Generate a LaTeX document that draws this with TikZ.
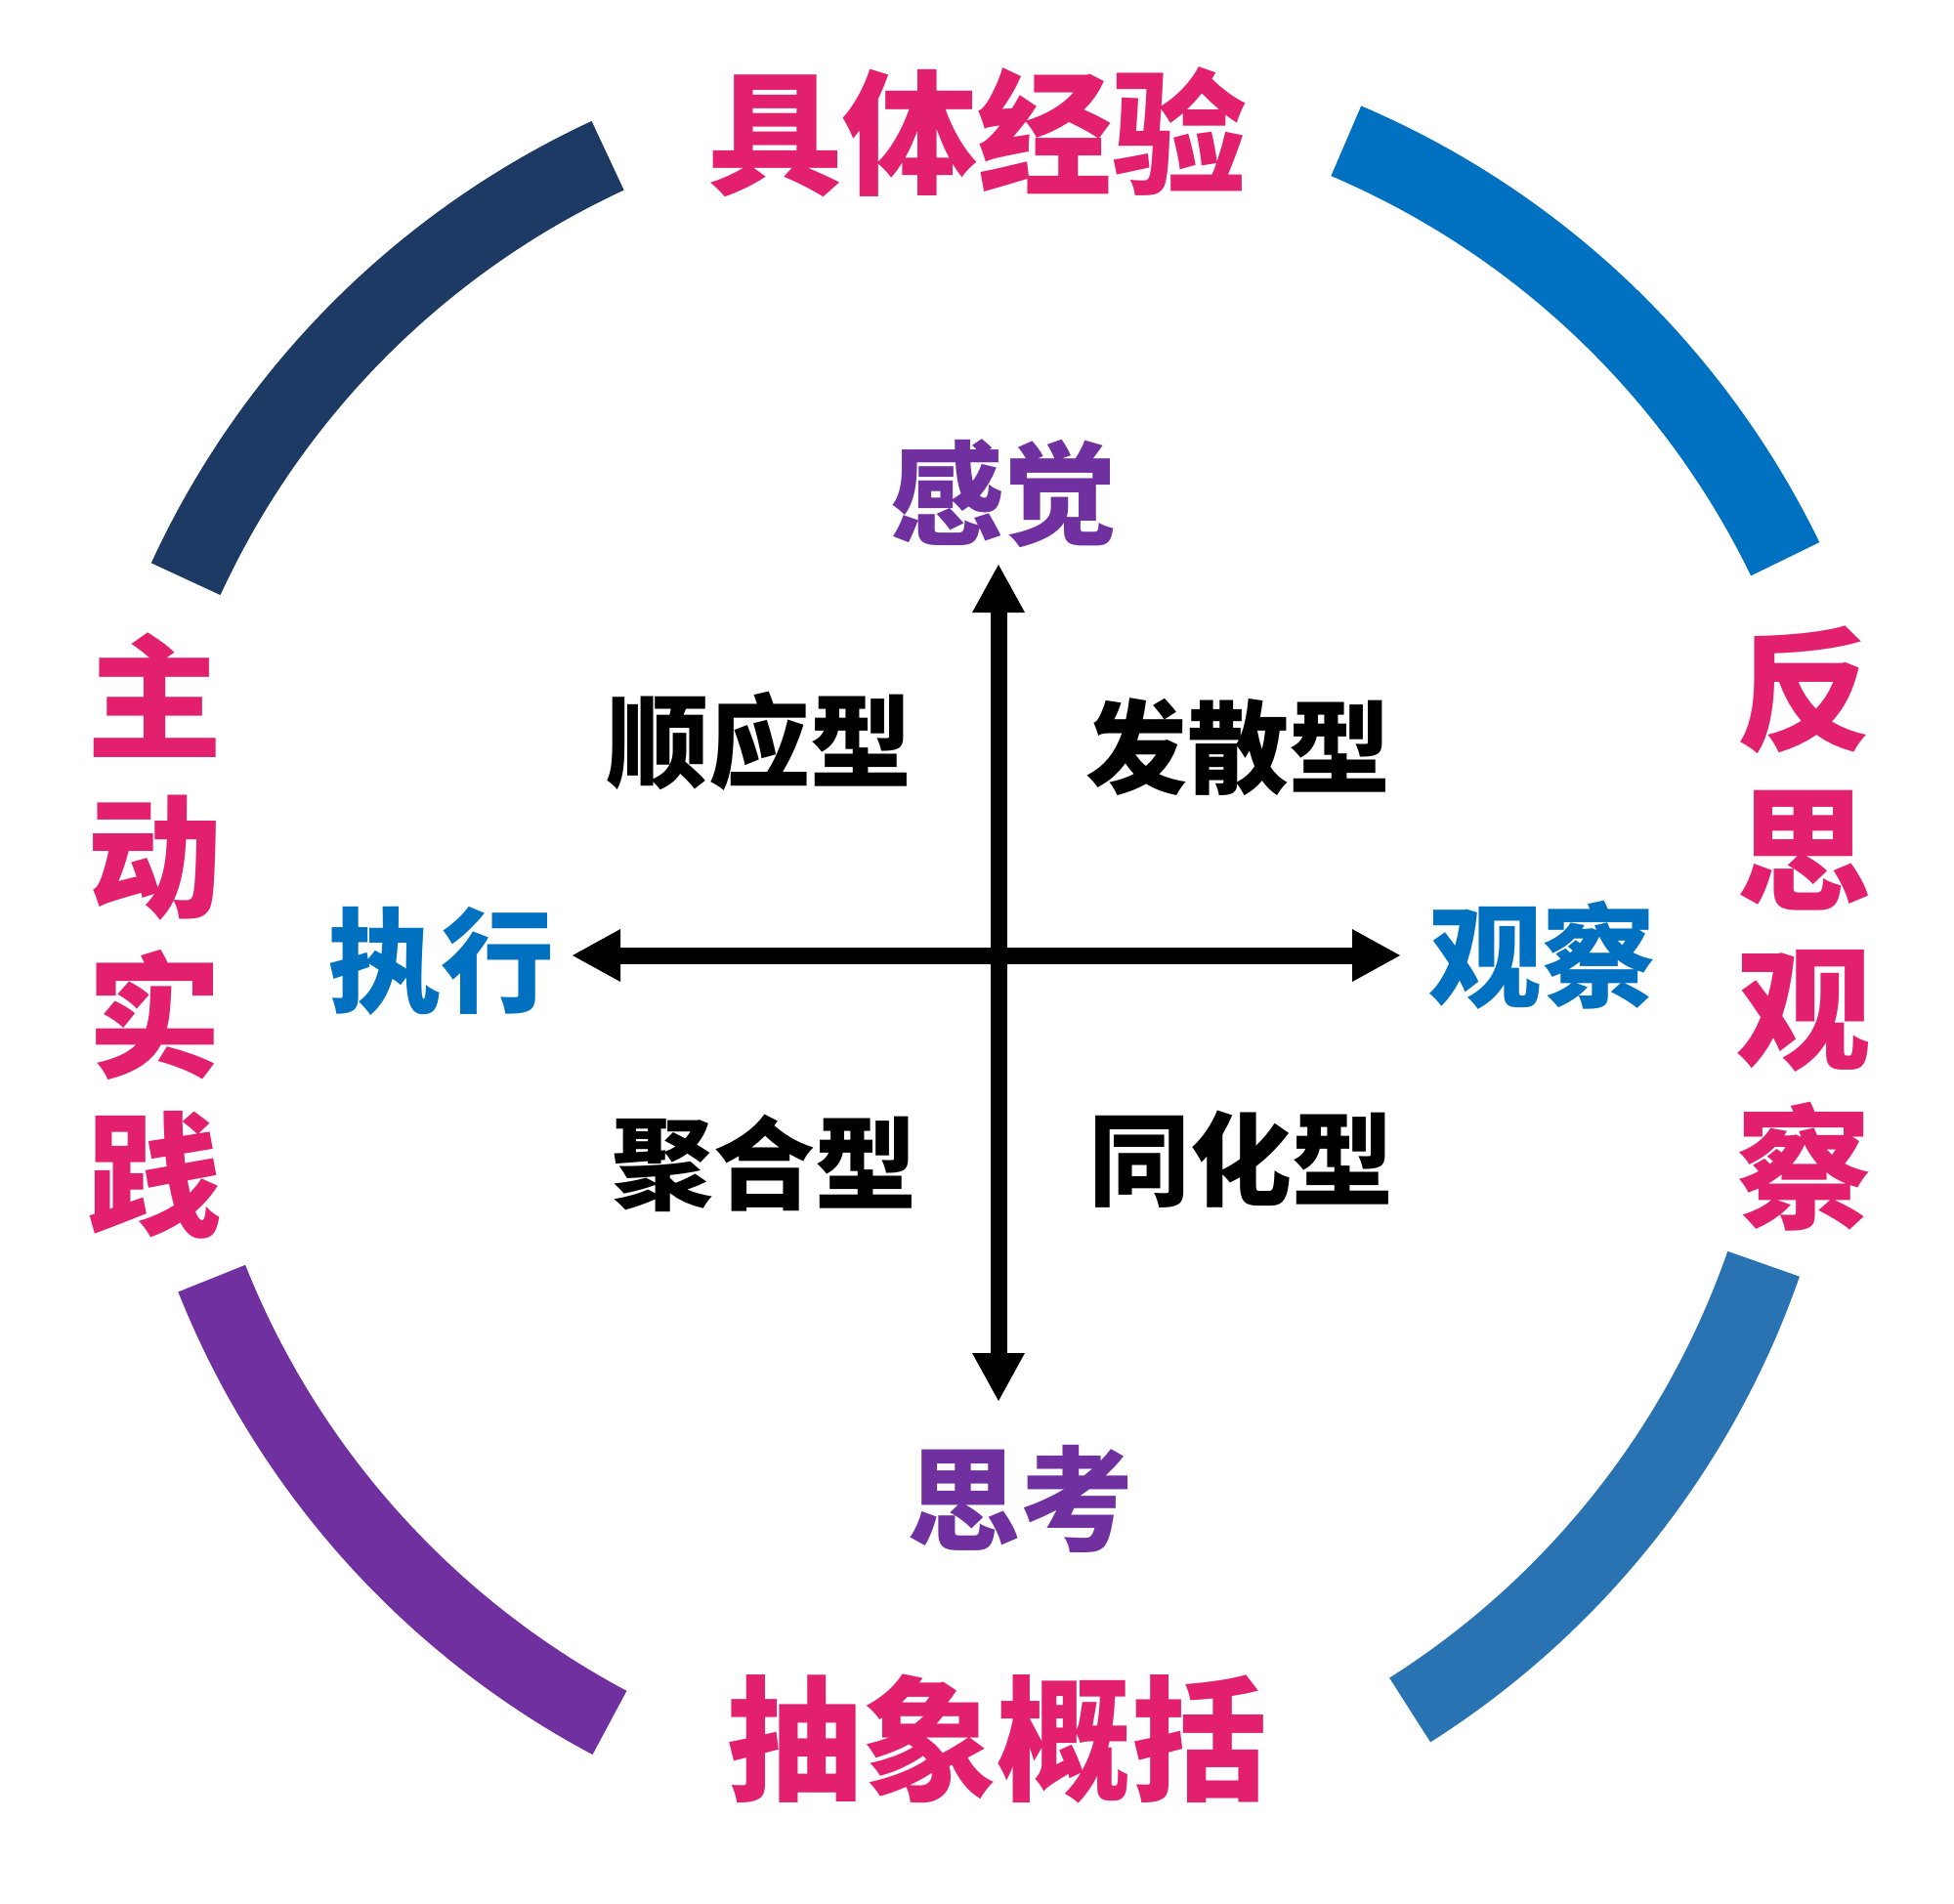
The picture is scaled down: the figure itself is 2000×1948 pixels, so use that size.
\documentclass[tikz,border=0pt]{standalone}
\usepackage{fontspec}
\newfontfamily\cjk{Noto Sans CJK SC}
\usetikzlibrary{arrows.meta}
\definecolor{pinkred}{HTML}{E2206E}
\definecolor{navy}{HTML}{1C3A64}
\definecolor{blueA}{HTML}{0070C0}
\definecolor{blueB}{HTML}{2A73B2}
\definecolor{purp}{HTML}{7030A0}
\tikzset{
  ring/.style={line width=39pt, line cap=butt},
  big/.style={inner sep=0pt, text=pinkred, font=\cjk\bfseries\fontsize{69}{81.5}\selectfont, align=center},
  axislbl/.style={inner sep=0pt, font=\cjk\bfseries\fontsize{58}{58}\selectfont},
  quad/.style={inner sep=0pt, text=black, font=\cjk\bfseries\fontsize{52}{52}\selectfont},
  axis/.style={line width=8.5pt, {Triangle[length=25pt,width=25pt]}-{Triangle[length=25pt,width=25pt]}}
}
\begin{document}
\begin{tikzpicture}[x=0.5pt,y=-0.5pt]
\useasboundingbox[fill=white] (0,0) rectangle (2000,1948);
% centres of the four ring arcs
\coordinate (OTL) at (995.1,962.9);
\coordinate (OTR) at (1030.2,959.2);
\coordinate (OBL) at (1039.9,981.1);
\coordinate (OBR) at (968.4,1002.4);
% outer ring arcs
\draw[ring, blueA] ([shift={(-25.9:886)}]OTR) arc[start angle=-25.9, end angle=-66.9, radius=886];
\draw[ring, navy] ([shift={(-114.9:886)}]OTL) arc[start angle=-114.9, end angle=-155.3, radius=886];
\draw[ring, purp, line width=37pt] ([shift={(118.0:886)}]OBL) arc[start angle=118.0, end angle=158.3, radius=886];
\draw[ring, blueB] ([shift={(19.2:886)}]OBR) arc[start angle=19.2, end angle=57.6, radius=886];
% cross
\coordinate (top) at (1022,577);
\coordinate (bot) at (1022,1435);
\coordinate (lft) at (585,978);
\coordinate (rgt) at (1434,978);
\draw[axis] (lft) -- (rgt);
\draw[axis] (top) -- (bot);
% outer labels
\node[big] (ce) at (1000,135) {具体经验};
\node[big] (ac) at (1020,1780) {抽象概括};
\node[big] (ae) at (158,958) {主\\动\\实\\践};
\node[big] (ro) at (1846,950) {反\\思\\观\\察};
% axis labels
\node[axislbl, text=purp] (feel) at (1027,505) {感觉};
\node[axislbl, text=purp] (think) at (1044,1534) {思考};
\node[axislbl, text=blueA] (do) at (451,984) {执行};
\node[axislbl, text=blueA] (watch) at (1578,978) {观察};
% quadrant labels
\node[quad] (acc) at (777,759) {顺应型};
\node[quad] (div) at (1267,765) {发散型};
\node[quad] (con) at (782,1191) {聚合型};
\node[quad] (ass) at (1270,1187) {同化型};
\end{tikzpicture}
\end{document}
